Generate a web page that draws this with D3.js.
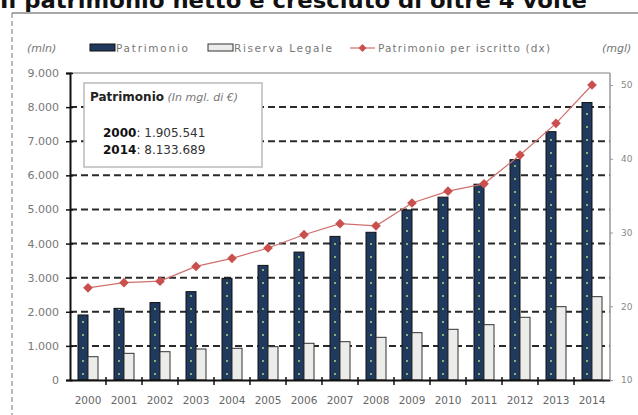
<!DOCTYPE html>
<html>
<head>
<meta charset="utf-8">
<script src="https://cdn.jsdelivr.net/npm/d3@7"></script>
<style>
  body { margin: 0; background: #fff; }
  svg { display: block; font-family: 'DejaVu Sans', sans-serif; }
</style>
</head>
<body>
<svg width="638" height="415"></svg>
<script>
// dati
const years = ['2000', '2001', '2002', '2003', '2004', '2005', '2006', '2007',
  '2008', '2009', '2010', '2011', '2012', '2013', '2014']
const patrimonio = [1906, 2100, 2270, 2590, 2980, 3360, 3750, 4210, 4330, 4985, 5360, 5740, 6460, 7280, 8134]
const riserva = [683, 782, 830, 909, 929, 977, 1076, 1123, 1251, 1388, 1486, 1622, 1838, 2150, 2443]
const perIscritto = [22.5, 23.2, 23.4, 25.4, 26.5, 27.9, 29.7, 31.2, 30.9, 34.0, 35.6, 36.6, 40.5, 44.8, 50.0]
const leftTicks = [0, 1000, 2000, 3000, 4000, 5000, 6000, 7000, 8000, 9000]
const rightTicks = [10, 20, 30, 40, 50]

const svg = d3.select('svg')
const fmt = d3.formatLocale({ decimal: ',', thousands: '.', grouping: [3], currency: ['€', ''] }).format(',')

const x = d3.scaleBand().domain(years).range([70, 610])
const inner = d3.scaleBand().domain(['pat', 'ris']).range([8, 28])
const y = d3.scaleLinear().domain([0, 9000]).range([380, 73])
const y2 = d3.scaleLinear().domain([10, 50]).range([380, 85])

// titolo (tagliato in alto come nell'originale)
svg.append('text')
  .attr('x', 0).attr('y', 8)
  .attr('font-size', 21).attr('font-weight', 'bold').attr('fill', '#111')
  .attr('textLength', 587).attr('lengthAdjust', 'spacingAndGlyphs')
  .text('Il patrimonio netto è cresciuto di oltre 4 volte')

// cornice
svg.append('line').attr('x1', 12).attr('x2', 638).attr('y1', 13).attr('y2', 13)
  .attr('stroke', '#8a8a8a').attr('stroke-width', 1.5)
svg.append('line').attr('x1', 12).attr('x2', 12).attr('y1', 13).attr('y2', 415)
  .attr('stroke', '#777').attr('stroke-dasharray', '5,3')

// pattern a puntini per le barre scure
const pat = svg.append('defs').append('pattern')
  .attr('id', 'dots').attr('patternUnits', 'userSpaceOnUse')
  .attr('width', 36).attr('height', 13).attr('y', 4)
pat.append('rect').attr('width', 36).attr('height', 13).attr('fill', '#1f3a5c')
pat.append('circle').attr('cx', 11).attr('cy', 6).attr('r', 0.9).attr('fill', '#cfe08a')

// griglia
svg.append('g')
  .selectAll('line')
  .data(leftTicks.filter(d => d > 0 && d < 9000))
  .join('line')
  .attr('x1', 70).attr('x2', 610)
  .attr('y1', d => y(d)).attr('y2', d => y(d))
  .attr('stroke', '#2a2a2a').attr('stroke-width', 2).attr('stroke-dasharray', '7,4')
svg.append('line').attr('x1', 70).attr('x2', 610).attr('y1', y(9000)).attr('y2', y(9000))
  .attr('stroke', '#aaa').attr('stroke-width', 1.5)

// riquadro annotazione
const box = svg.append('g')
box.append('rect').attr('x', 84).attr('y', 83).attr('width', 178).attr('height', 84)
  .attr('fill', '#fff').attr('stroke', '#bbb').attr('stroke-width', 1.5)
const t1 = box.append('text').attr('x', 90).attr('y', 101).attr('font-size', 12).attr('fill', '#222')
t1.append('tspan').attr('font-weight', 'bold').text('Patrimonio')
t1.append('tspan').attr('font-style', 'italic').attr('fill', '#777').attr('font-size', 11).text(' (In mgl. di €)')
;[['2000', '1.905.541', 137], ['2014', '8.133.689', 154]].forEach(([yr, v, ty]) => {
  const t = box.append('text').attr('x', 103).attr('y', ty).attr('font-size', 12).attr('fill', '#333')
  t.append('tspan').attr('font-weight', 'bold').attr('fill', '#111').text(yr)
  t.append('tspan').text(': ' + v)
})

// barre
const g = svg.append('g')
g.selectAll('rect.pat')
  .data(patrimonio)
  .join('rect')
  .attr('class', 'pat')
  .attr('x', (d, i) => x(years[i]) + inner('pat'))
  .attr('width', inner.bandwidth())
  .attr('y', d => y(d))
  .attr('height', d => y(0) - y(d))
  .attr('fill', 'url(#dots)').attr('stroke', '#111').attr('stroke-width', 1)
g.selectAll('rect.ris')
  .data(riserva)
  .join('rect')
  .attr('class', 'ris')
  .attr('x', (d, i) => x(years[i]) + inner('ris'))
  .attr('width', inner.bandwidth())
  .attr('y', d => y(d))
  .attr('height', d => y(0) - y(d))
  .attr('fill', '#ececea').attr('stroke', '#333').attr('stroke-width', 1)

// linea patrimonio per iscritto
const cx = (d, i) => x(years[i]) + x.bandwidth() / 2
svg.append('path')
  .datum(perIscritto)
  .attr('d', d3.line().x(cx).y(d => y2(d)))
  .attr('fill', 'none').attr('stroke', '#d0706d').attr('stroke-width', 1.2)
svg.append('g')
  .selectAll('path')
  .data(perIscritto)
  .join('path')
  .attr('d', d3.symbol(d3.symbolDiamond2, 60))
  .attr('transform', (d, i) => `translate(${cx(d, i)},${y2(d)})`)
  .attr('fill', '#c9504d')

// assi
const axL = svg.append('g').attr('transform', 'translate(70,0)')
  .call(d3.axisLeft(y).tickValues(leftTicks).tickFormat(fmt).tickSize(4).tickPadding(7))
axL.selectAll('line').attr('x2', -4).attr('x1', 3).attr('stroke', '#111').attr('stroke-width', 1.5)
axL.select('.domain').attr('stroke', '#111').attr('stroke-width', 2)
axL.selectAll('text').attr('font-size', 11).attr('fill', '#777').attr('font-family', 'DejaVu Sans')

const axB = svg.append('g').attr('transform', 'translate(0,380)')
  .call(d3.axisBottom(x).tickSize(0).tickPadding(17))
axB.select('.domain').attr('stroke', '#111').attr('stroke-width', 2)
axB.selectAll('text').attr('font-size', 10.5).attr('fill', '#666').attr('font-family', 'DejaVu Sans')
axB.selectAll('line.sep')
  .data(years.slice(1))
  .join('line')
  .attr('class', 'sep')
  .attr('x1', d => x(d)).attr('x2', d => x(d))
  .attr('y1', -3).attr('y2', 5)
  .attr('stroke', '#111').attr('stroke-width', 1.5)

const axR = svg.append('g').attr('transform', 'translate(610,0)')
  .call(d3.axisRight(y2).tickValues(rightTicks).tickSize(3).tickPadding(8))
axR.select('.domain').attr('d', 'M0,73V380').attr('stroke', '#999').attr('stroke-width', 1.5)
axR.selectAll('line').attr('stroke', '#999')
axR.selectAll('text').attr('font-size', 9).attr('fill', '#888').attr('font-family', 'DejaVu Sans')

// legenda
const leg = svg.append('g').attr('font-size', 10.5).attr('fill', '#777')
leg.append('text').attr('x', 27).attr('y', 52).attr('font-style', 'italic').attr('font-size', 11).text('(mln)')
leg.append('rect').attr('x', 90).attr('y', 44).attr('width', 25).attr('height', 7)
  .attr('fill', '#1f3a5c').attr('stroke', '#111')
leg.append('text').attr('x', 116).attr('y', 52).attr('textLength', 72).text('Patrimonio')
leg.append('rect').attr('x', 208).attr('y', 44).attr('width', 25).attr('height', 7)
  .attr('fill', '#ececea').attr('stroke', '#333')
leg.append('text').attr('x', 234).attr('y', 52).attr('textLength', 98).text('Riserva Legale')
leg.append('line').attr('x1', 350).attr('x2', 375).attr('y1', 48).attr('y2', 48)
  .attr('stroke', '#d0706d').attr('stroke-width', 1.2)
leg.append('path').attr('d', d3.symbol(d3.symbolDiamond2, 40))
  .attr('transform', 'translate(362.5,48)').attr('fill', '#c9504d')
leg.append('text').attr('x', 378).attr('y', 52).attr('textLength', 172).text('Patrimonio per iscritto (dx)')
leg.append('text').attr('x', 602).attr('y', 52).attr('font-style', 'italic').attr('font-size', 11).text('(mgl)')
</script>
</body>
</html>
